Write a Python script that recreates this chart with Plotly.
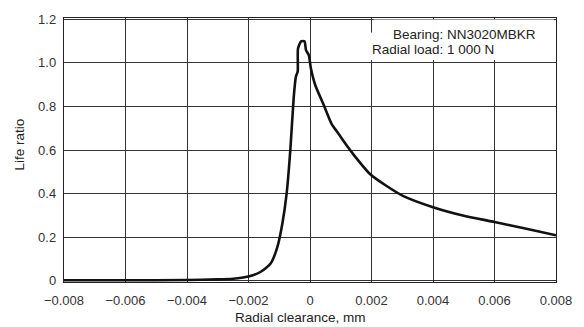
import plotly.graph_objects as go

# Data
clearance_mm = [-0.008, -0.006, -0.004, -0.003, -0.0025, -0.00235, -0.002, -0.0016,
                -0.00128, -0.00106, -0.0009, -0.00076, -0.00064, -0.00053, -0.00046,
                -0.0004, -0.00039, -0.00029, -0.00018, -0.00013, -0.00004, 0.00003,
                0.00017, 0.00044, 0.00071, 0.00087, 0.00098, 0.00125, 0.00141, 0.00195,
                0.00248, 0.00302, 0.004, 0.00497, 0.006, 0.007, 0.008]
life_ratio = [0.003, 0.003, 0.004, 0.007, 0.010, 0.012, 0.020, 0.042,
              0.080, 0.156, 0.262, 0.400, 0.600, 0.840, 0.936,
              0.960, 1.065, 1.098, 1.098, 1.058, 1.035, 0.974,
              0.898, 0.808, 0.717, 0.686, 0.664, 0.610, 0.580, 0.490,
              0.436, 0.390, 0.338, 0.300, 0.270, 0.240, 0.209]

x_tick_vals = [-0.008, -0.006, -0.004, -0.002, 0, 0.002, 0.004, 0.006, 0.008]
x_tick_text = ["\u22120.008", "\u22120.006", "\u22120.004", "\u22120.002", "0",
               "0.002", "0.004", "0.006", "0.008"]
y_tick_vals = [0, 0.2, 0.4, 0.6, 0.8, 1.0, 1.2]
y_tick_text = ["0", "0.2", "0.4", "0.6", "0.8", "1.0", "1.2"]

x_title = "Radial clearance, mm"
y_title = "Life ratio"
note_line1 = "Bearing: NN3020MBKR"
note_line2 = "Radial load: 1 000 N"

FONT = "Liberation Sans, Arial, sans-serif"
W, H = 584, 327
L, R, T, B = 64, 23, 16, 45

fig = go.Figure()
fig.add_trace(go.Scatter(
    x=clearance_mm, y=life_ratio, mode="lines",
    line=dict(color="#111111", width=2.6, shape="spline", smoothing=0.6),
    hoverinfo="skip", showlegend=False,
))

# white box hiding the grid behind the note
fig.add_shape(type="rect", xref="x", yref="y", layer="between",
              x0=0.00207, x1=0.00793, y0=1.012, y1=1.198,
              fillcolor="white", line=dict(width=0))
fig.add_shape(type="rect", xref="x", yref="y", layer="between",
              x0=0.00180, x1=0.00210, y0=1.012, y1=1.138,
              fillcolor="white", line=dict(width=0))

def px_to_paper_x(px):
    return (px - L) / (W - L - R)

def px_to_paper_y(py):
    return 1 - (py - T) / (H - T - B)

annos = [
    dict(text=note_line1, x=px_to_paper_x(543), y=px_to_paper_y(33),
         xanchor="right", yanchor="middle", font=dict(size=13.5)),
    dict(text=note_line2, x=px_to_paper_x(373), y=px_to_paper_y(48),
         xanchor="left", yanchor="middle", font=dict(size=13.5)),
    dict(text=x_title, x=px_to_paper_x(303), y=px_to_paper_y(318),
         xanchor="center", yanchor="middle", font=dict(size=13.5)),
    dict(text=y_title, x=px_to_paper_x(19), y=px_to_paper_y(143),
         xanchor="center", yanchor="middle", textangle=-90, font=dict(size=13.5)),
]
for a in annos:
    a.update(xref="paper", yref="paper", showarrow=False)
    a["font"].update(family=FONT, color="#222222")
    fig.add_annotation(**a)

fig.update_xaxes(
    range=[-0.008, 0.008], tickvals=x_tick_vals, ticktext=x_tick_text,
    showgrid=True, gridcolor="#333333", gridwidth=1,
    showline=True, linecolor="#222222", linewidth=1.2, mirror=True,
    zeroline=False, ticks="", ticklabelstandoff=6,
    tickfont=dict(family=FONT, size=13, color="#333333"),
)
fig.update_yaxes(
    range=[-0.005, 1.205], tickvals=y_tick_vals, ticktext=y_tick_text,
    showgrid=True, gridcolor="#333333", gridwidth=1,
    showline=True, linecolor="#222222", linewidth=1.2, mirror=True,
    zeroline=False, ticks="", ticklabelstandoff=4,
    tickfont=dict(family=FONT, size=13, color="#333333"),
)
fig.update_layout(
    width=W, height=H,
    margin=dict(l=L, r=R, t=T, b=B),
    paper_bgcolor="white", plot_bgcolor="white",
    showlegend=False,
)
fig.write_html(
    "out.html",
    config={"displayModeBar": False, "staticPlot": True},
    post_script="document.body.style.margin='0';document.body.style.overflow='hidden';",
)
